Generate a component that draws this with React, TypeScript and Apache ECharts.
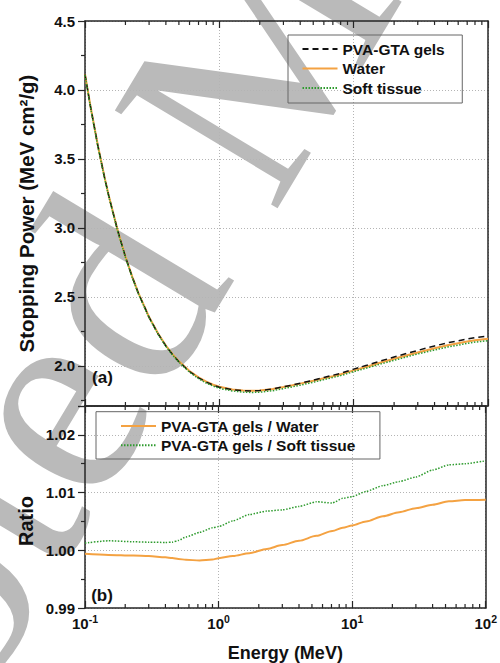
import React, { useEffect, useRef } from 'react';
import * as echarts from 'echarts';

// ---------- data ----------
const energies = [
  0.1, 0.11, 0.125, 0.14, 0.15, 0.175, 0.2, 0.225, 0.25, 0.3, 0.35, 0.4, 0.45, 0.5, 0.6, 0.7, 0.8, 0.9, 1,
  1.25, 1.5, 1.75, 2, 2.5, 3, 3.5, 4, 5, 6, 7, 8, 10, 12.5, 15, 20, 25, 30, 40, 50, 60, 70, 80, 100,
];
const gelSP = [
  4.113, 3.877, 3.59, 3.363, 3.236, 2.982, 2.791, 2.644, 2.526, 2.353, 2.233, 2.145, 2.081, 2.031, 1.96, 1.914,
  1.883, 1.861, 1.846, 1.828, 1.821, 1.819, 1.822, 1.834, 1.849, 1.862, 1.875, 1.897, 1.917, 1.933, 1.947, 1.977,
  2.005, 2.029, 2.065, 2.092, 2.113, 2.145, 2.168, 2.183, 2.196, 2.206, 2.217,
];
const waterSP = [
  4.115, 3.879, 3.592, 3.365, 3.238, 2.984, 2.793, 2.646, 2.528, 2.355, 2.235, 2.148, 2.084, 2.034, 1.963, 1.917,
  1.886, 1.864, 1.849, 1.83, 1.822, 1.82, 1.822, 1.833, 1.847, 1.86, 1.872, 1.893, 1.911, 1.926, 1.94, 1.968,
  1.995, 2.018, 2.052, 2.078, 2.098, 2.128, 2.15, 2.165, 2.177, 2.187, 2.198,
];
const tissueSP = [
  4.108, 3.872, 3.585, 3.358, 3.231, 2.977, 2.787, 2.64, 2.522, 2.35, 2.23, 2.142, 2.078, 2.028, 1.955, 1.908,
  1.876, 1.854, 1.838, 1.819, 1.811, 1.808, 1.81, 1.821, 1.836, 1.849, 1.861, 1.882, 1.901, 1.917, 1.93, 1.959,
  1.985, 2.008, 2.041, 2.067, 2.087, 2.116, 2.137, 2.151, 2.164, 2.173, 2.183,
];

const ratioEnergies = [
  0.1, 0.15, 0.23, 0.3, 0.4, 0.45, 0.5, 0.57, 0.72, 0.9, 1, 1.28, 1.7, 2.3, 3, 4, 5.4, 7.1, 8.5, 10, 12.7, 17,
  22.5, 30, 40, 53, 70, 100,
];
const ratioGelWater = [
  0.99938, 0.9992, 0.99909, 0.999, 0.9988, 0.99865, 0.9985, 0.99835, 0.99824, 0.9984, 0.99864, 0.999, 0.9995,
  1.00023, 1.0009, 1.00165, 1.0025, 1.00335, 1.0039, 1.0043, 1.005, 1.0059, 1.0066, 1.0073, 1.0079, 1.0085,
  1.0087, 1.00875,
];
const ratioGelTissue = [
  1.00125, 1.00165, 1.00148, 1.0014, 1.00136, 1.0014, 1.0017, 1.0023, 1.0031, 1.0039, 1.0041, 1.0051, 1.0062,
  1.0068, 1.007, 1.0076, 1.0084, 1.0082, 1.009, 1.0093, 1.0102, 1.0112, 1.0119, 1.0127, 1.0139, 1.0148, 1.015,
  1.0155,
];

const minorTickValues = [
  0.2, 0.3, 0.4, 0.5, 0.6, 0.7, 0.8, 0.9, 2, 3, 4, 5, 6, 7, 8, 9, 20, 30, 40, 50, 60, 70, 80, 90,
];
const topLegendNames = ['PVA-GTA gels', 'Water', 'Soft tissue'];
const bottomLegendNames = ['PVA-GTA gels / Water', 'PVA-GTA gels / Soft tissue'];

const X_MIN = 0.1;
const X_MAX = 100;
const Y1_MIN = 1.71;
const Y1_MAX = 4.5;
const Y2_MIN = 0.99;
const Y2_MAX = 1.025;

// ---------- styles ----------
const FONT = '"Liberation Sans", Arial, Helvetica, sans-serif';
const AXIS_COLOR = '#262626';
const TEXT_COLOR = '#111111';
const ORANGE = '#F4A242';
const GREEN = '#2E9B2E';
const BLACK = '#111111';

const zip = (xs: number[], ys: number[]) => xs.map((x, i) => [x, ys[i]]);

const axisLine = { show: true, onZero: false, lineStyle: { color: AXIS_COLOR, width: 1.5 } };
const gridLine = { show: true, lineStyle: { color: '#b4b4b4', width: 1, type: [1, 2] as number[] } };

function xAxis(gridIndex: number, position: 'top' | 'bottom', labels: boolean, split: boolean, name?: string) {
  return {
    type: 'log',
    logBase: 10,
    gridIndex,
    position,
    min: X_MIN,
    max: X_MAX,
    axisLine,
    axisTick: { show: true, inside: true, length: 7, lineStyle: { color: AXIS_COLOR, width: 1.2 } },
    minorTick: { show: false },
    splitLine: split ? gridLine : { show: false },
    axisLabel: labels
      ? {
          show: true,
          margin: 5,
          formatter: (v: number) => `{b|10}{s|${Math.round(Math.log10(v))}}`,
          rich: {
            b: { fontSize: 15, fontWeight: 'bold', fontFamily: FONT, color: TEXT_COLOR, lineHeight: 20 },
            s: { fontSize: 10.5, fontWeight: 'bold', fontFamily: FONT, color: TEXT_COLOR, verticalAlign: 'top', lineHeight: 10 },
          },
        }
      : { show: false },
    name,
    nameLocation: 'middle',
    nameGap: 36,
    nameTextStyle: { fontSize: 18, fontWeight: 'bold', fontFamily: FONT, color: TEXT_COLOR },
  };
}

function minorTickSeries(xAxisIndex: number, yAxisIndex: number, yMin: number, yMax: number) {
  return {
    type: 'custom',
    xAxisIndex,
    yAxisIndex,
    silent: true,
    clip: false,
    z: 5,
    encode: { x: 0, y: 1 },
    data: minorTickValues.map((v) => [v, yMin]),
    renderItem: (_params: any, api: any) => {
      const v = api.value(0);
      const pb = api.coord([v, yMin]);
      const pt = api.coord([v, yMax]);
      const style = { stroke: AXIS_COLOR, lineWidth: 1.2 };
      return {
        type: 'group',
        children: [
          { type: 'line', shape: { x1: pb[0], y1: pb[1], x2: pb[0], y2: pb[1] - 4 }, style },
          { type: 'line', shape: { x1: pt[0], y1: pt[1], x2: pt[0], y2: pt[1] + 4 }, style },
        ],
      };
    },
  };
}

const legendText = { fontSize: 15.5, fontWeight: 'bold', fontFamily: FONT, color: TEXT_COLOR, lineHeight: 18 };

// ---------- background watermark ----------
const WM_TEXT = 'Accepted Manuscript';
const WM_SIZE = 290;
const WM_ANGLE = (59 * Math.PI) / 180;
const WM_X0 = -411.5;
const WM_Y0 = 1165.6;

const option: any = {
  animation: false,
  backgroundColor: '#ffffff',
  grid: [
    { left: 85, top: 21, width: 403, height: 385 },
    { left: 85, top: 406, width: 403, height: 206 },
  ],
  xAxis: [
    xAxis(0, 'bottom', false, true),
    xAxis(0, 'top', false, false),
    xAxis(1, 'bottom', true, true, 'Energy (MeV)'),
    xAxis(1, 'top', false, false),
  ],
  yAxis: [
    {
      type: 'value',
      gridIndex: 0,
      position: 'left',
      min: Y1_MIN,
      max: Y1_MAX,
      splitNumber: 5,
      axisLine,
      axisTick: { show: true, inside: false, length: 7, lineStyle: { color: AXIS_COLOR, width: 1.2 } },
      minorTick: { show: true, splitNumber: 2, length: 4, lineStyle: { color: AXIS_COLOR, width: 1.2 } },
      splitLine: gridLine,
      axisLabel: {
        showMinLabel: false,
        margin: 10,
        fontSize: 15,
        fontWeight: 'bold',
        fontFamily: FONT,
        color: TEXT_COLOR,
        formatter: (v: number) => v.toFixed(1),
      },
      name: 'Stopping Power (MeV cm²/g)',
      nameLocation: 'middle',
      nameGap: 48,
      nameTextStyle: { fontSize: 20.5, fontWeight: 'bold', fontFamily: FONT, color: TEXT_COLOR },
    },
    {
      type: 'value',
      gridIndex: 0,
      position: 'right',
      min: Y1_MIN,
      max: Y1_MAX,
      axisLine,
      axisTick: { show: false },
      axisLabel: { show: false },
      splitLine: { show: false },
    },
    {
      type: 'value',
      gridIndex: 1,
      position: 'left',
      min: Y2_MIN,
      max: Y2_MAX,
      interval: 0.01,
      axisLine,
      axisTick: { show: true, inside: false, length: 7, lineStyle: { color: AXIS_COLOR, width: 1.2 } },
      minorTick: { show: true, splitNumber: 2, length: 4, lineStyle: { color: AXIS_COLOR, width: 1.2 } },
      splitLine: gridLine,
      axisLabel: {
        showMaxLabel: false,
        margin: 10,
        fontSize: 15,
        fontWeight: 'bold',
        fontFamily: FONT,
        color: TEXT_COLOR,
        formatter: (v: number) => v.toFixed(2),
      },
    },
    {
      type: 'value',
      gridIndex: 1,
      position: 'right',
      min: Y2_MIN,
      max: Y2_MAX,
      axisLine,
      axisTick: { show: false },
      axisLabel: { show: false },
      splitLine: { show: false },
    },
  ],
  legend: [
    {
      data: topLegendNames,
      orient: 'vertical',
      left: 288,
      top: 35,
      padding: [5, 17, 6, 13.5],
      itemWidth: 35,
      itemHeight: 14,
      itemGap: 1.5,
      borderColor: '#666666',
      borderWidth: 1,
      borderRadius: 0,
      selectedMode: false,
      itemStyle: { opacity: 0 },
      textStyle: legendText,
    },
    {
      data: bottomLegendNames,
      orient: 'vertical',
      left: 96,
      top: 411.7,
      padding: [5.3, 24, 4.7, 24],
      itemWidth: 35,
      itemHeight: 14,
      itemGap: 1.3,
      borderColor: '#666666',
      borderWidth: 1,
      borderRadius: 0,
      selectedMode: false,
      itemStyle: { opacity: 0 },
      textStyle: legendText,
    },
  ],
  series: [
    {
      name: 'Water',
      type: 'line',
      xAxisIndex: 0,
      yAxisIndex: 0,
      data: zip(energies, waterSP),
      showSymbol: false,
      symbol: 'none',
      lineStyle: { color: ORANGE, width: 2 },
      itemStyle: { color: ORANGE },
      z: 2,
    },
    {
      name: 'PVA-GTA gels',
      type: 'line',
      xAxisIndex: 0,
      yAxisIndex: 0,
      data: zip(energies, gelSP),
      showSymbol: false,
      symbol: 'none',
      lineStyle: { color: BLACK, width: 1.5, type: [6, 4] },
      itemStyle: { color: BLACK },
      z: 3,
    },
    {
      name: 'Soft tissue',
      type: 'line',
      xAxisIndex: 0,
      yAxisIndex: 0,
      data: zip(energies, tissueSP),
      showSymbol: false,
      symbol: 'none',
      lineStyle: { color: GREEN, width: 1.5, type: [1.5, 1.5] },
      itemStyle: { color: GREEN },
      z: 4,
    },
    {
      name: 'PVA-GTA gels / Water',
      type: 'line',
      xAxisIndex: 2,
      yAxisIndex: 2,
      data: zip(ratioEnergies, ratioGelWater),
      showSymbol: false,
      symbol: 'none',
      smooth: 0.3,
      smoothMonotone: 'x',
      lineStyle: { color: ORANGE, width: 2 },
      itemStyle: { color: ORANGE },
    },
    {
      name: 'PVA-GTA gels / Soft tissue',
      type: 'line',
      xAxisIndex: 2,
      yAxisIndex: 2,
      data: zip(ratioEnergies, ratioGelTissue),
      showSymbol: false,
      symbol: 'none',
      smooth: 0.2,
      smoothMonotone: 'x',
      lineStyle: { color: GREEN, width: 1.5, type: [1.5, 1.5] },
      itemStyle: { color: GREEN },
    },
    minorTickSeries(0, 0, Y1_MIN, Y1_MAX),
    minorTickSeries(2, 2, Y2_MIN, Y2_MAX),
  ],
  graphic: [
    {
      type: 'text',
      z: -100,
      silent: true,
      x: WM_X0,
      y: WM_Y0,
      rotation: WM_ANGLE,
      style: {
        text: WM_TEXT,
        fill: '#bababa',
        font: `normal ${WM_SIZE}px "Liberation Serif", "Times New Roman", serif`,
        align: 'left',
        verticalAlign: 'middle',
        textAlign: 'left',
        textVerticalAlign: 'middle',
      },
    },
    {
      type: 'text',
      z: 10,
      x: 25.5,
      y: 521,
      rotation: Math.PI / 2,
      style: {
        text: 'Ratio',
        fill: TEXT_COLOR,
        font: `bold 20px ${FONT}`,
        align: 'center',
        verticalAlign: 'middle',
        textAlign: 'center',
        textVerticalAlign: 'middle',
      },
    },
    {
      type: 'text',
      z: 10,
      x: 102.5,
      y: 377,
      style: {
        text: '(a)',
        fill: TEXT_COLOR,
        font: `bold 17px ${FONT}`,
        align: 'center',
        verticalAlign: 'middle',
        textAlign: 'center',
        textVerticalAlign: 'middle',
      },
    },
    {
      type: 'text',
      z: 10,
      x: 102,
      y: 595.5,
      style: {
        text: '(b)',
        fill: TEXT_COLOR,
        font: `bold 17px ${FONT}`,
        align: 'center',
        verticalAlign: 'middle',
        textAlign: 'center',
        textVerticalAlign: 'middle',
      },
    },
  ],
};

export default function App() {
  const ref = useRef<HTMLDivElement>(null);
  useEffect(() => {
    document.body.style.margin = '0';
    const chart = echarts.init(ref.current as HTMLDivElement, null, { renderer: 'svg' });
    chart.setOption(option);
    return () => {
      chart.dispose();
    };
  }, []);
  return <div ref={ref} style={{ width: 500, height: 663 }} />;
}
